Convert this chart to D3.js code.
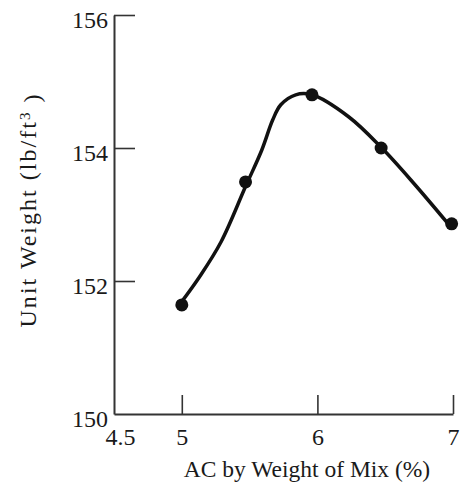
<!DOCTYPE html>
<html>
<head>
<meta charset="utf-8">
<script src="https://cdn.jsdelivr.net/npm/d3@7"></script>
<style>
  body { margin: 0; background: #fff; }
  text { font-family: "Liberation Serif", "DejaVu Serif", serif; fill: #1a1a1a; }
</style>
</head>
<body>
<div id="chart"></div>
<script>
// measured points (AC %, unit weight lb/ft3)
var acPct = [5.0, 5.47, 5.96, 6.47, 6.99];
var unitWeight = [151.64, 153.49, 154.80, 154.00, 152.86];

// hand drawn smooth curve
var curveAC = [5.0, 5.13, 5.29, 5.47, 5.59, 5.67, 5.73, 5.84, 5.96, 6.23, 6.47, 6.71, 6.96];
var curveUW = [151.69, 152.06, 152.59, 153.42, 153.97, 154.42, 154.65, 154.80, 154.80, 154.47, 154.01, 153.47, 152.87];

var xTicks = [4.5, 5, 6, 7];
var yTicks = [150, 152, 154, 156];

var width = 461, height = 491;
var margin = { top: 15, right: 8, bottom: 77, left: 114 };

var svg = d3.select("#chart").append("svg")
    .attr("width", width)
    .attr("height", height);

var x = d3.scaleLinear()
    .domain([4.5, 7])
    .range([margin.left, width - margin.right]);

var y = d3.scaleLinear()
    .domain([150, 156])
    .range([height - margin.bottom, margin.top]);

//Axes, ticks drawn inward
var xAxis = d3.axisBottom(x)
    .tickValues(xTicks)
    .tickFormat(d3.format(""))
    .tickSizeInner(-19)
    .tickSizeOuter(0)
    .tickPadding(14);

var yAxis = d3.axisLeft(y)
    .tickValues(yTicks)
    .tickFormat(d3.format(""))
    .tickSizeInner(-21)
    .tickSizeOuter(0)
    .tickPadding(6);

var gx = svg.append("g")
    .attr("class", "x-axis")
    .attr("transform", "translate(0," + y(150) + ")")
    .call(xAxis);

var gy = svg.append("g")
    .attr("class", "y-axis")
    .attr("transform", "translate(" + x(4.5) + ",0)")
    .call(yAxis);

[gx, gy].forEach(function(g){
    g.select(".domain").attr("stroke", "#333").attr("stroke-width", 2);
    g.selectAll(".tick line").attr("stroke", "#333").attr("stroke-width", 1.6);
    g.selectAll(".tick text")
        .attr("font-size", "24px")
        .attr("fill", "#1a1a1a")
        .attr("font-family", "Liberation Serif, serif");
});

gx.selectAll(".tick").filter(d => d === 4.5).select("line").remove();
gx.selectAll(".tick").filter(d => d === 4.5).select("text").attr("dx", 6);
gy.selectAll(".tick").filter(d => d === 150).select("line").remove();
gy.selectAll(".tick text").attr("dy", "0.5em");

//Curve
var line = d3.line()
    .x(d => x(d[0]))
    .y(d => y(d[1]))
    .curve(d3.curveCatmullRom.alpha(0.5));

svg.append("path")
    .datum(curveAC.map((d, i) => [d, curveUW[i]]))
    .attr("d", line)
    .attr("fill", "none")
    .attr("stroke", "#111")
    .attr("stroke-width", 3.5)
    .attr("stroke-linecap", "round");

svg.selectAll("circle.pt")
    .data(acPct)
    .enter()
    .append("circle")
    .attr("class", "pt")
    .attr("cx", d => x(d))
    .attr("cy", (d, i) => y(unitWeight[i]))
    .attr("r", 6.5)
    .attr("fill", "#111");

//Axis labels
svg.append("text")
    .attr("x", 307)
    .attr("y", 477)
    .attr("text-anchor", "middle")
    .attr("font-size", "23.5px")
    .text("AC by Weight of Mix (%)");

var ylab = svg.append("text")
    .attr("transform", "translate(36,211) rotate(-90)")
    .attr("text-anchor", "middle")
    .attr("font-size", "24px")
    .attr("textLength", 233)
    .attr("lengthAdjust", "spacing");

ylab.append("tspan").text("Unit Weight (lb/ft");
ylab.append("tspan").attr("dy", "-0.4em").attr("font-size", "15px").text("3");
ylab.append("tspan").attr("dy", "0.4em").text(" )");
</script>
</body>
</html>
